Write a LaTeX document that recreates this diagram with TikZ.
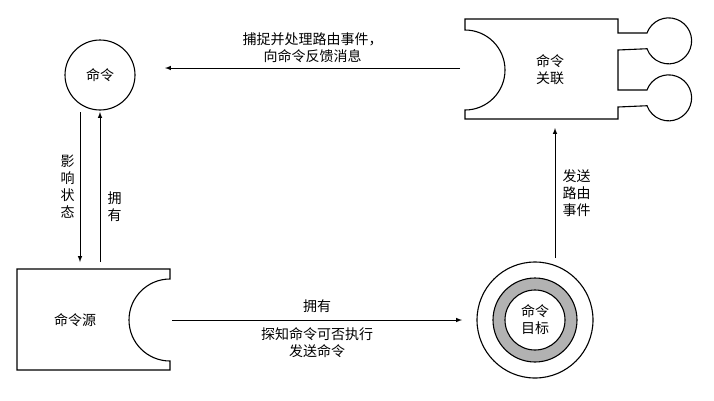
\documentclass[tikz,border=0pt]{standalone}
\usepackage{fontspec}
\newfontfamily\cjk{Noto Sans CJK SC}
\usetikzlibrary{positioning}
\tikzset{
  lbl/.style={font=\cjk\fontsize{14}{17}\selectfont, align=center, inner sep=1pt},
  conn/.style={-latex, line width=1pt},
  part/.style={draw, line width=1.1pt, fill=white}
}
\begin{document}
\begin{tikzpicture}[x=1pt,y=-1pt]
\useasboundingbox (0,0) rectangle (714,400);
% command
\draw[part] (100,75) circle (35);
\node[lbl] (cmd) at (100,75) {命令};
% command binding
\draw[part] (465,19) -- (618,19) -- (618,33) -- (647,33) arc (200:520:23) -- (618,50) -- (618,90) -- (647,90) arc (200:520:23) -- (618,107) -- (618,119) -- (465,119) -- (465,110) arc (90:-90:40) -- cycle;
\node[lbl] (bind) at (550,70) {命令\\关联};
% command source
\draw[part] (17,269) -- (170,269) -- (170,279) arc (270:90:41) -- (170,370) -- (17,370) -- cycle;
\node[lbl] (src) at (75,320) {命令源};
% command target
\draw[part] (535,320) circle (58);
\draw[line width=1.1pt, fill=gray!60] (535,320) circle (42);
\draw[line width=1.1pt, fill=white] (535,320) circle (30);
\node[lbl] (tgt) at (535,320) {命令\\目标};
% connectors
\coordinate (bindL) at (460,68);
\coordinate (cmdR) at (165,68);
\coordinate (srcR) at (172,320);
\coordinate (tgtL) at (462,320);
\draw[conn] (bindL) -- (cmdR) node[lbl, midway, above=4pt] {捕捉并处理路由事件，\\向命令反馈消息};
\draw[conn] (80,112) -- (80,262) node[lbl, midway, left=4pt] {影\\响\\状\\态};
\draw[conn] (100,262) -- (100,112) node[lbl, midway, right=6pt, yshift=-20pt] {拥\\有};
\draw[conn] (555,258) -- (555,128) node[lbl, midway, right=6pt] {发送\\路由\\事件};
\draw[conn] (srcR) -- (tgtL) node[lbl, midway, above=6pt] {拥有} node[lbl, midway, below=6pt] {探知命令可否执行\\发送命令};
\end{tikzpicture}
\end{document}
